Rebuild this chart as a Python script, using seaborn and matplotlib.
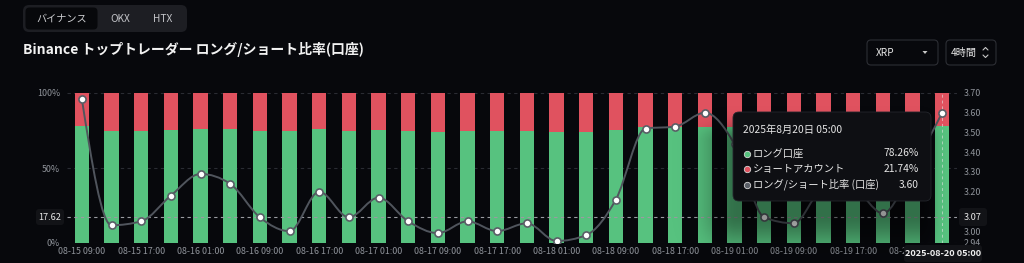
import numpy as np
import pandas as pd
import matplotlib
matplotlib.use("Agg")
import matplotlib.pyplot as plt
import seaborn as sns
from matplotlib.path import Path
from matplotlib.patches import PathPatch, FancyBboxPatch, Polygon

# ---------------- data ----------------
times = ["08-15 09:00", "08-15 13:00", "08-15 17:00", "08-15 21:00",
         "08-16 01:00", "08-16 05:00", "08-16 09:00", "08-16 13:00", "08-16 17:00", "08-16 21:00",
         "08-17 01:00", "08-17 05:00", "08-17 09:00", "08-17 13:00", "08-17 17:00", "08-17 21:00",
         "08-18 01:00", "08-18 05:00", "08-18 09:00", "08-18 13:00", "08-18 17:00", "08-18 21:00",
         "08-19 01:00", "08-19 05:00", "08-19 09:00", "08-19 13:00", "08-19 17:00", "08-19 21:00",
         "08-20 01:00", "08-20 05:00"]
long_pct = [78.2, 74.7, 74.9, 75.5, 76.2, 76.2, 74.9, 74.4, 75.8, 74.9,
            75.5, 74.9, 74.2, 74.7, 74.9, 74.7, 74.0, 74.2, 75.3, 77.6,
            77.2, 77.6, 77.5, 75.4, 75.2, 76.2, 76.2, 75.5, 76.7, 78.26]
ratio = [3.67, 3.03, 3.05, 3.18, 3.29, 3.24, 3.07, 3.00, 3.20, 3.07,
         3.17, 3.05, 2.99, 3.05, 3.00, 3.04, 2.95, 2.98, 3.16, 3.52,
         3.53, 3.60, 3.44, 3.07, 3.04, 3.21, 3.21, 3.09, 3.32, 3.60]
left_ticks = [0, 50, 100]
left_labels = ["0%", "50%", "100%"]
right_ticks = [2.94, 3.00, 3.10, 3.20, 3.30, 3.40, 3.50, 3.60, 3.70]
right_labels = ["2.94", "3.00", "3.10", "3.20", "3.30", "3.40", "3.50", "3.60", "3.70"]
tabs = ["バイナンス", "OKX", "HTX"]
title = "Binance トップトレーダー ロング/ショート比率(口座)"
tooltip_title = "2025年8月20日 05:00"
tooltip_rows = [("ロング口座", "78.26%"), ("ショートアカウント", "21.74%"),
                ("ロング/ショート比率 (口座)", "3.60")]
cross_left, cross_right = "17.62", "3.07"
cross_x_label = "2025-08-20 05:00"

# ---------------- style ----------------
BG = "#07080c"
GREEN = "#57c27f"
RED = "#e0525f"
LINE = "#50555d"
TXT = "#8f939a"

sns.set_theme(style="dark")
plt.rcParams['font.family'] = ['Noto Sans CJK JP', 'DejaVu Sans']
plt.rcParams['axes.unicode_minus'] = False

W, H = 1024, 263
fig = plt.figure(figsize=(W / 100, H / 100), dpi=100, facecolor=BG)

L, R, T, B = 67, 957, 93, 243
ax = fig.add_axes([L / W, (H - B) / H, (R - L) / W, (B - T) / H])
ax.set_facecolor(BG)

df = pd.DataFrame({"t": times, "long": long_pct, "ratio": ratio})
df["full"] = 100.0
df["idx"] = np.arange(len(df))

sns.barplot(data=df, x="idx", y="full", color=RED, saturation=1, width=0.49, ax=ax,
            zorder=2, edgecolor="none", linewidth=0)
sns.barplot(data=df, x="idx", y="long", color=GREEN, saturation=1, width=0.49, ax=ax,
            zorder=3, edgecolor="none", linewidth=0)
ax.set_xlim(-0.5, len(df) - 0.5)
ax.set_ylim(0, 100)
ax.set_xlabel("")
ax.set_ylabel("")
ax.grid(False)
for s in ax.spines.values():
    s.set_visible(False)
for v in left_ticks:
    ax.axhline(v, color="#2a2c33", lw=0.8, ls=(0, (3, 3)), zorder=1)
ax.set_yticks(left_ticks)
ax.set_yticklabels(left_labels)
ax.set_xticks(df["idx"][::2])
ax.set_xticklabels(df["t"][::2])
ax.tick_params(axis="both", length=0, colors=TXT, labelsize=6.4)
ax.tick_params(axis="y", pad=5)
ax.tick_params(axis="x", pad=3)

# crosshair
ax.axvline(len(df) - 1, color="#e8e8e8", lw=0.7, ls=(0, (3, 3)), alpha=0.6, zorder=4)
ax.axhline(17.62, color="#9a9ca2", lw=0.8, ls=(0, (3, 3)), zorder=4)

# ratio line
ax2 = ax.twinx()
ax2.set_ylim(2.94, 3.70)
ax2.set_yticks(right_ticks)
ax2.set_yticklabels(right_labels)
ax2.tick_params(axis="y", length=0, colors=TXT, labelsize=6.4, pad=5)
ax2.grid(False)
for s in ax2.spines.values():
    s.set_visible(False)

x = df["idx"].to_numpy(float)
y = df["ratio"].to_numpy(float)
n = len(x)
d = np.diff(y)
m = np.zeros(n)
for i in range(1, n - 1):
    s0, s1 = d[i - 1], d[i]
    p = (s0 + s1) / 2
    m[i] = (np.sign(s0) + np.sign(s1)) * min(abs(s0), abs(s1), 0.5 * abs(p))
m[0] = (3 * d[0] - m[1]) / 2
m[-1] = (3 * d[-1] - m[-2]) / 2
verts = [(x[0], y[0])]
codes = [Path.MOVETO]
for i in range(n - 1):
    verts += [(x[i] + 1 / 3, y[i] + m[i] / 3), (x[i + 1] - 1 / 3, y[i + 1] - m[i + 1] / 3), (x[i + 1], y[i + 1])]
    codes += [Path.CURVE4] * 3
ax2.add_patch(PathPatch(Path(verts, codes), fc="none", ec=LINE, lw=1.4, zorder=5))
sns.scatterplot(data=df, x="idx", y="ratio", ax=ax2, s=26, color="white",
                edgecolor="#5a5f67", linewidth=1.2, zorder=6, legend=False)
ax2.set_xlabel("")
ax2.set_ylabel("")
ax.set_xlim(-0.5, n - 0.5)

# ---------------- overlay UI ----------------
ov = fig.add_axes([0, 0, 1, 1], zorder=10)
ov.patch.set_alpha(0)
ov.axis("off")

# shadow around tooltip (offset downward / to the left)
tx0, tx1, ty0, ty1 = 733, 931, 112, 201
gx, gy = np.meshgrid(np.arange(W) + 0.5, np.arange(H) + 0.5)
ddx = np.maximum(np.maximum(tx0 + 4 - gx, 0), (gx - (tx1 - 12)) * 2.2)
ddy = np.maximum(np.maximum((ty0 + 30 - gy) * 1.8, 0), gy - (ty1 + 14))
dist = np.sqrt(ddx ** 2 + ddy ** 2)
alpha = 0.42 * np.exp(-(dist / 30.0) ** 2)
img = np.zeros((H, W, 4))
img[..., 3] = alpha
ov.imshow(img, extent=(0, W, H, 0), aspect="auto", zorder=1, interpolation="bilinear")
ov.set_xlim(0, W)
ov.set_ylim(H, 0)

ov.add_patch(FancyBboxPatch((tx0, ty0), tx1 - tx0, ty1 - ty0,
                            boxstyle="round,pad=0,rounding_size=6",
                            fc="#0e0f13", ec="#24262c", lw=0.6, zorder=2))
ov.text(743, 130, tooltip_title, color="#e6e6e6", fontsize=7.4, va="center", ha="left", zorder=3)
dot_cols = [GREEN, RED, "#5a5f67"]
for k, (lab, val) in enumerate(tooltip_rows):
    yy = 153.5 + k * 15.5
    ov.plot([746.5], [yy], marker="o", ms=4.6, mfc=dot_cols[k], mec="#d8d8d8", mew=0.6, zorder=3)
    ov.text(753, yy, lab, color="#e6e6e6", fontsize=7.4, va="center", ha="left", zorder=3)
    ov.text(919, yy, val, color="#e6e6e6", fontsize=7.4, va="center", ha="right", zorder=3)

# crosshair labels
ov.add_patch(FancyBboxPatch((36, 209), 28, 16, boxstyle="round,pad=0,rounding_size=3",
                            fc="#121317", ec="none", zorder=2))
ov.text(50, 217, cross_left, color="#e8e8e8", fontsize=6.6, ha="center", va="center", zorder=3)
ov.add_patch(FancyBboxPatch((959, 208), 28, 18, boxstyle="round,pad=0,rounding_size=3",
                            fc="#121317", ec="none", zorder=2))
ov.text(964, 217, cross_right, color="#e8e8e8", fontsize=6.6, ha="left", va="center", zorder=3)
ov.add_patch(FancyBboxPatch((904, 245), 78, 17, boxstyle="round,pad=0,rounding_size=3",
                            fc="#121317", ec="none", zorder=2))
ov.text(943, 253.5, cross_x_label, color="#f0f0f0", fontsize=6.6, ha="center", va="center",
        fontweight="bold", zorder=3)

# tabs
ov.add_patch(FancyBboxPatch((23, 5), 164, 27, boxstyle="round,pad=0,rounding_size=6",
                            fc="#1d1e23", ec="none", zorder=2))
ov.add_patch(FancyBboxPatch((25.5, 7.5), 72, 22, boxstyle="round,pad=0,rounding_size=4",
                            fc="#07080b", ec="none", zorder=3))
for tx, lab, col in zip([61.5, 120, 163], tabs, ["#cfd0d3", "#c4c5c9", "#c4c5c9"]):
    ov.text(tx, 18.5, lab, color=col, fontsize=7.3, ha="center", va="center", zorder=4)

# title
ov.text(23, 49.5, title, color="#f2f2f2", fontsize=10, fontweight="bold",
        ha="left", va="center", zorder=4)

# dropdowns
ov.add_patch(FancyBboxPatch((867, 40), 71, 25, boxstyle="round,pad=0,rounding_size=4",
                            fc=BG, ec="#2c2e34", lw=0.8, zorder=2))
ov.text(876, 52.5, "XRP", color="#e6e6e6", fontsize=7.3, ha="left", va="center", zorder=3)
ov.add_patch(Polygon([(922.5, 51), (927.5, 51), (925, 54)], closed=True, fc="#c8c8c8", ec="none", zorder=3))
ov.add_patch(FancyBboxPatch((946, 40), 50, 25, boxstyle="round,pad=0,rounding_size=4",
                            fc=BG, ec="#2c2e34", lw=0.8, zorder=2))
ov.text(951, 52.5, "4時間", color="#e6e6e6", fontsize=7.3, ha="left", va="center", zorder=3)
ov.plot([983, 985.5, 988], [50, 47.5, 50], color="#c8c8c8", lw=0.8, zorder=3)
ov.plot([983, 985.5, 988], [55, 57.5, 55], color="#c8c8c8", lw=0.8, zorder=3)

fig.savefig("out.png", dpi=100, facecolor=BG)
